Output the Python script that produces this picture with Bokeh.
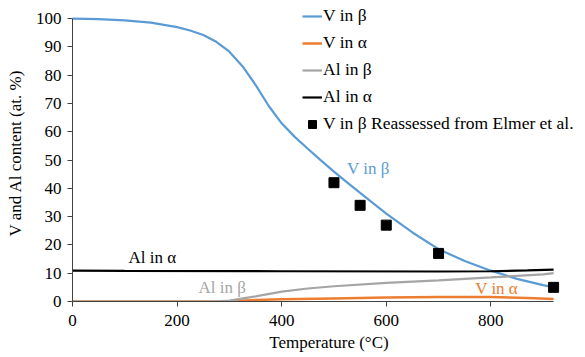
from bokeh.plotting import figure
from bokeh.models import Legend, LegendItem, FixedTicker, Label
from bokeh.embed import file_html
from bokeh.resources import INLINE

# ---- data ----
t_v_beta = [0, 50, 100, 150, 200, 225, 250, 275, 300, 325, 350, 375, 400, 425, 450, 475, 500, 525, 550, 600, 650, 700, 750, 800, 850, 900, 920]
v_beta = [100, 99.8, 99.4, 98.6, 97.0, 95.8, 94.2, 91.8, 88.3, 83.2, 76.6, 69.2, 63.0, 58.2, 54.0, 49.9, 45.9, 42.1, 38.4, 31.1, 24.4, 18.5, 14.3, 10.9, 8, 5.8, 5]

t_v_alpha = [0, 280, 300, 350, 400, 500, 600, 700, 800, 870, 920]
v_alpha = [0, 0, 0.1, 0.5, 0.8, 1.1, 1.4, 1.6, 1.6, 1.2, 0.9]

t_al_beta = [0, 270, 300, 350, 400, 450, 500, 600, 700, 800, 900, 920]
al_beta = [0, 0, 0.3, 1.8, 3.5, 4.6, 5.4, 6.6, 7.5, 8.5, 9.6, 10.0]

t_al_alpha = [0, 100, 400, 700, 800, 870, 920]
al_alpha = [10.9, 10.8, 10.7, 10.6, 10.7, 11.0, 11.3]

t_elmer = [500, 550, 600, 700, 920]
v_elmer = [42, 34, 27, 17, 5]

x_ticks = [0, 200, 400, 600, 800]
y_ticks = [0, 10, 20, 30, 40, 50, 60, 70, 80, 90, 100]

ann_text = ["V in β", "Al in α", "Al in β", "V in α"]
ann_x = [525, 107, 241, 770]
ann_y = [46.9, 15.4, 4.8, 4.5]
ann_color = ["#5B9BD5", "#000000", "#A5A5A5", "#ED7D31"]

FONT = "Liberation Serif"
FS = "17px"

p = figure(width=585, height=357, x_range=(0, 981), y_range=(0, 105),
           output_backend="svg", toolbar_location=None,
           min_border_left=72, min_border_right=0, min_border_top=4, min_border_bottom=56)
p.background_fill_color = "white"
p.border_fill_color = "white"
p.outline_line_color = None
p.xgrid.visible = False
p.ygrid.visible = False

r_vb = p.line(t_v_beta, v_beta, line_color="#5B9BD5", line_width=2.2)
r_va = p.line(t_v_alpha, v_alpha, line_color="#ED7D31", line_width=2.5)
r_ab = p.line(t_al_beta, al_beta, line_color="#A5A5A5", line_width=2.2)
r_aa = p.line(t_al_alpha, al_alpha, line_color="#000000", line_width=2.2)
r_el = p.scatter(t_elmer, v_elmer, marker="square", size=10, fill_color="black", line_color="black")

for txt, x, y, c in zip(ann_text, ann_x, ann_y, ann_color):
    p.add_layout(Label(x=x, y=y, text=txt, text_color=c, text_font=FONT, text_font_size=FS,
                       text_baseline="middle", text_align="left"))

for ax in (p.xaxis, p.yaxis):
    ax.axis_line_color = "#404040"
    ax.major_tick_line_color = "#404040"
    ax.minor_tick_line_color = None
    ax.major_tick_in = 0
    ax.major_tick_out = 5
    ax.major_label_text_font = FONT
    ax.major_label_text_font_size = FS
    ax.major_label_text_color = "black"
    ax.axis_label_text_font = FONT
    ax.axis_label_text_font_size = FS
    ax.axis_label_text_font_style = "normal"
    ax.axis_label_text_color = "black"

p.xaxis.bounds = (0, 920)
p.yaxis.bounds = (0, 100)
p.xaxis.ticker = FixedTicker(ticks=x_ticks)
p.yaxis.ticker = FixedTicker(ticks=y_ticks)
p.xaxis.axis_label = "Temperature (°C)"
p.yaxis.axis_label = "V and Al content (at. %)"
p.xaxis.major_label_standoff = 8
p.xaxis.axis_label_standoff = 4
p.yaxis.major_label_standoff = 6
p.yaxis.axis_label_standoff = 8

legend = Legend(items=[
    LegendItem(label="V in β", renderers=[r_vb]),
    LegendItem(label="V in α", renderers=[r_va]),
    LegendItem(label="Al in β", renderers=[r_ab]),
    LegendItem(label="Al in α", renderers=[r_aa]),
    LegendItem(label="V in β Reassessed from Elmer et al.", renderers=[r_el]),
], location=(230, 167))
legend.background_fill_alpha = 0
legend.border_line_color = None
legend.padding = 0
legend.margin = 0
legend.spacing = 6
legend.glyph_width = 20
legend.glyph_height = 20
legend.label_height = 20
legend.label_standoff = 1
legend.label_text_font = FONT
legend.label_text_font_size = "17.5px"
legend.label_text_color = "black"
p.add_layout(legend, "center")

open("out.html", "w").write(file_html(p, INLINE))
